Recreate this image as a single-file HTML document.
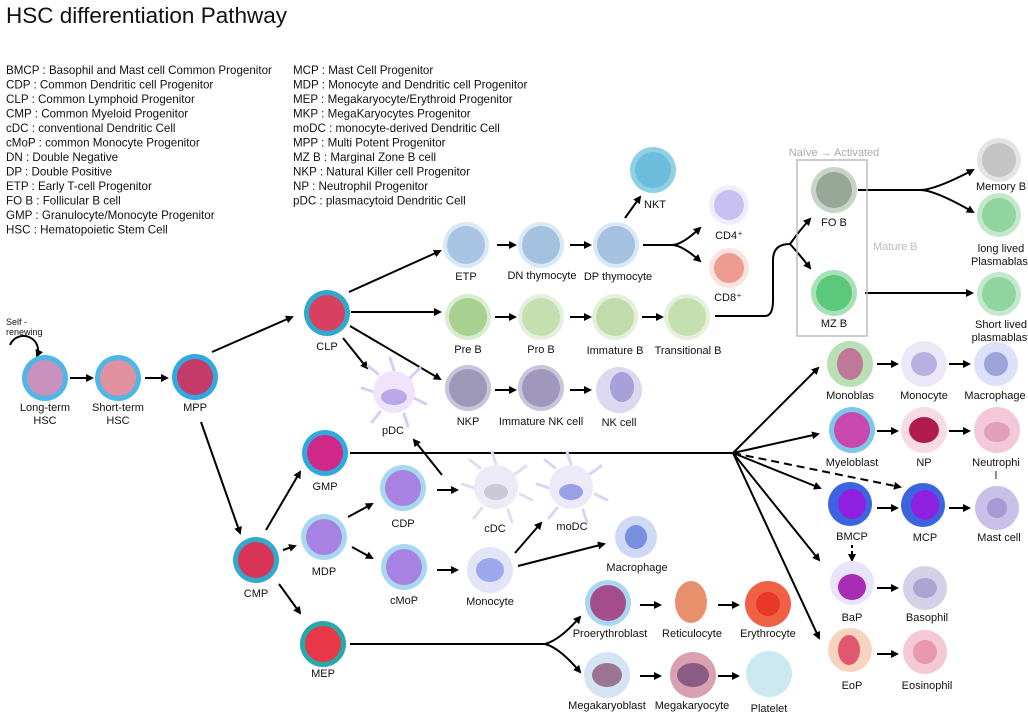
<!DOCTYPE html>
<html><head><meta charset="utf-8"><style>
html,body{margin:0;padding:0;background:#fff}
svg{display:block}
text{font-family:"Liberation Sans",sans-serif;font-size:11px;fill:#111}
.c text{text-anchor:middle}
.lg text{font-size:11.6px}
</style></head><body>
<svg width="1028" height="716" viewBox="0 0 1028 716" xmlns="http://www.w3.org/2000/svg">
<defs>
<marker id="a" markerWidth="8" markerHeight="8" refX="6" refY="4" orient="auto" markerUnits="userSpaceOnUse" viewBox="0 0 8 8"><path d="M0,0 L8,4 L0,8 Z" fill="#000"/></marker>
</defs>
<text x="6" y="23" style="font-size:22.5px">HSC differentiation Pathway</text>
<g class="lg">
<text x="6" y="74">BMCP : Basophil and Mast cell Common Progenitor</text>
<text x="6" y="88.5">CDP : Common Dendritic cell Progenitor</text>
<text x="6" y="103">CLP : Common Lymphoid Progenitor</text>
<text x="6" y="117.5">CMP : Common Myeloid Progenitor</text>
<text x="6" y="132">cDC : conventional Dendritic Cell</text>
<text x="6" y="146.5">cMoP : common Monocyte Progenitor</text>
<text x="6" y="161">DN : Double Negative</text>
<text x="6" y="175.5">DP : Double Positive</text>
<text x="6" y="190">ETP : Early T-cell Progenitor</text>
<text x="6" y="204.5">FO B : Follicular B cell</text>
<text x="6" y="219">GMP : Granulocyte/Monocyte Progenitor</text>
<text x="6" y="233.5">HSC : Hematopoietic Stem Cell</text>
<text x="293" y="74">MCP : Mast Cell Progenitor</text>
<text x="293" y="88.5">MDP : Monocyte and Dendritic cell Progenitor</text>
<text x="293" y="103">MEP : Megakaryocyte/Erythroid Progenitor</text>
<text x="293" y="117.5">MKP : MegaKaryocytes Progenitor</text>
<text x="293" y="132">moDC : monocyte-derived Dendritic Cell</text>
<text x="293" y="146.5">MPP : Multi Potent Progenitor</text>
<text x="293" y="161">MZ B : Marginal Zone B cell</text>
<text x="293" y="175.5">NKP : Natural Killer cell Progenitor</text>
<text x="293" y="190">NP : Neutrophil Progenitor</text>
<text x="293" y="204.5">pDC : plasmacytoid Dendritic Cell</text>
</g>

<g stroke="#000" stroke-width="2" fill="none" marker-end="url(#a)">
<path d="M10,345 A14,14 0 1 1 37,356"/>
<line x1="70" y1="378" x2="92" y2="378"/>
<line x1="145" y1="378" x2="167" y2="378"/>
<line x1="212" y1="352" x2="292" y2="317"/>
<line x1="201" y1="422" x2="240" y2="533"/>
<line x1="349" y1="292" x2="440" y2="251"/>
<line x1="351" y1="312" x2="440" y2="312"/>
<line x1="350" y1="326" x2="440" y2="379"/>
<line x1="343" y1="338" x2="367" y2="368"/>
<line x1="497" y1="245" x2="515" y2="245"/>
<line x1="570" y1="245" x2="590" y2="245"/>
<line x1="625" y1="218" x2="640" y2="197"/>
<path d="M643,245 L672,245 Q682,245 700,228"/>
<path d="M672,245 Q682,245 700,261"/>
<line x1="495" y1="317" x2="515" y2="317"/>
<line x1="570" y1="317" x2="590" y2="317"/>
<line x1="642" y1="317" x2="662" y2="317"/>
<path d="M715,316 L765,316 Q773,316 773,300 L773,260 Q773,244 790,244 Q800,230 810,219"/>
<path d="M790,244 Q800,255 810,268"/>
<path d="M858,190 L920,190 Q935,190 973,170"/>
<path d="M920,190 Q935,190 973,212"/>
<line x1="865" y1="293" x2="972" y2="293"/>
<line x1="495" y1="390" x2="515" y2="390"/>
<line x1="570" y1="390" x2="590" y2="390"/>
<line x1="266" y1="530" x2="300" y2="472"/>
<line x1="283" y1="550" x2="295" y2="546"/>
<line x1="279" y1="584" x2="300" y2="613"/>
<line x1="348" y1="517" x2="372" y2="504"/>
<line x1="352" y1="547" x2="372" y2="558"/>
<line x1="437" y1="490" x2="457" y2="490"/>
<line x1="442" y1="475" x2="414" y2="440"/>
<line x1="437" y1="570" x2="457" y2="570"/>
<line x1="515" y1="553" x2="541" y2="523"/>
<line x1="518" y1="566" x2="604" y2="544"/>
<path d="M350,453 L733,453 L818,368" />
<path d="M733,453 L818,434"/>
<path d="M733,453 L820,488"/>
<path d="M733,453 L819,560"/>
<path d="M733,453 L819,638"/>
<path d="M350,644 L545,644 Q560,640 580,617"/>
<path d="M545,644 Q560,648 580,672"/>
<line x1="640" y1="605" x2="660" y2="605"/>
<line x1="718" y1="605" x2="738" y2="605"/>
<line x1="640" y1="676" x2="660" y2="676"/>
<line x1="718" y1="676" x2="738" y2="676"/>
<line x1="877" y1="364" x2="897" y2="364"/>
<line x1="949" y1="364" x2="969" y2="364"/>
<line x1="877" y1="431" x2="897" y2="431"/>
<line x1="949" y1="431" x2="969" y2="431"/>
<line x1="877" y1="508" x2="897" y2="508"/>
<line x1="949" y1="508" x2="969" y2="508"/>
<line x1="877" y1="588" x2="897" y2="588"/>
<line x1="877" y1="654" x2="897" y2="654"/>
<path d="M733,453 L900,487" stroke-dasharray="8,5"/>
<path d="M852,545 L852,560" stroke-dasharray="3,3"/>
</g>

<rect x="797" y="160" width="70" height="176" fill="none" stroke="#bbb" stroke-width="1.5"/>
<text x="834" y="156" style="fill:#aaa;text-anchor:middle">Naïve → Activated</text>
<text x="873" y="250" style="fill:#bbb">Mature B</text>

<g stroke="#d8ccf4" stroke-width="3" stroke-linecap="round" fill="none">
<path d="M394,370 L390,358 M410,378 L420,368 M414,398 L426,404 M404,414 L408,426 M380,412 L372,422 M374,392 L362,388 M378,374 L368,366"/>
</g>
<g stroke="#e0def0" stroke-width="3" stroke-linecap="round" fill="none">
<path d="M496,464 L492,452 M515,474 L526,466 M520,494 L532,500 M508,510 L512,522 M482,508 L474,518 M474,488 L462,484 M480,468 L470,460"/>
<path d="M571,464 L567,452 M590,474 L601,466 M595,494 L607,500 M583,510 L587,522 M557,508 L549,518 M549,488 L537,484 M555,468 L545,460" stroke="#d8d6f4"/>
</g>

<g class="c">
<text x="6" y="325" style="font-size:9px;text-anchor:start">Self -</text>
<text x="6" y="335" style="font-size:9px;text-anchor:start">renewing</text>
<circle cx="45" cy="378" r="23" fill="#4db8e8"/><circle cx="45" cy="378" r="18" fill="#c890bc"/>
<text x="45" y="411">Long-term</text><text x="45" y="424">HSC</text>
<circle cx="118" cy="378" r="23" fill="#4db8e8"/><circle cx="118" cy="378" r="18" fill="#e0909e"/>
<text x="118" y="411">Short-term</text><text x="118" y="424">HSC</text>
<circle cx="195" cy="377" r="23" fill="#30a8e0"/><circle cx="195" cy="377" r="18" fill="#c43a68"/>
<text x="195" y="411">MPP</text>
<circle cx="327" cy="313" r="23" fill="#30a8d0"/><circle cx="327" cy="313" r="18" fill="#d84060"/>
<text x="327" y="350">CLP</text>
<circle cx="325" cy="453" r="23" fill="#30a8e0"/><circle cx="325" cy="453" r="18" fill="#d02888"/>
<text x="325" y="490">GMP</text>
<circle cx="324" cy="537" r="23" fill="#a8d8f0"/><circle cx="324" cy="537" r="18" fill="#a882e2"/>
<text x="324" y="575">MDP</text>
<circle cx="256" cy="560" r="23" fill="#30a8d0"/><circle cx="256" cy="560" r="18" fill="#d83458"/>
<text x="256" y="597">CMP</text>
<circle cx="323" cy="644" r="23" fill="#28a8a8"/><circle cx="323" cy="644" r="18" fill="#e83848"/>
<text x="323" y="677">MEP</text>

<circle cx="466" cy="245" r="23" fill="#d8e8f4"/><circle cx="466" cy="245" r="19" fill="#a8c4e2"/>
<text x="466" y="280">ETP</text>
<circle cx="541" cy="245" r="23" fill="#d8e8f4"/><circle cx="541" cy="245" r="19" fill="#a4c2e0"/>
<text x="542" y="279">DN thymocyte</text>
<circle cx="616" cy="245" r="23" fill="#d8e8f4"/><circle cx="616" cy="245" r="19" fill="#a4c2e0"/>
<text x="618" y="280">DP thymocyte</text>
<circle cx="653" cy="170" r="23" fill="#90d0e4"/><circle cx="653" cy="170" r="18" fill="#6cbcdc"/>
<text x="655" y="208">NKT</text>
<circle cx="729" cy="205" r="20" fill="#eeeeff"/><circle cx="729" cy="205" r="15" fill="#c8c0f0"/>
<text x="729" y="239">CD4⁺</text>
<circle cx="729" cy="268" r="20" fill="#f8e4e0"/><circle cx="729" cy="268" r="15" fill="#ec9c90"/>
<text x="728" y="301">CD8⁺</text>

<circle cx="468" cy="317" r="23" fill="#d8ecd0"/><circle cx="468" cy="317" r="19" fill="#a8d090"/>
<text x="468" y="353">Pre B</text>
<circle cx="541" cy="317" r="23" fill="#e4f0dc"/><circle cx="541" cy="317" r="19" fill="#c4e0b0"/>
<text x="541" y="353">Pro B</text>
<circle cx="615" cy="317" r="23" fill="#e4f0dc"/><circle cx="615" cy="317" r="19" fill="#c0dcac"/>
<text x="615" y="354">Immature B</text>
<circle cx="687" cy="317" r="23" fill="#e4f0dc"/><circle cx="687" cy="317" r="19" fill="#c4e0b0"/>
<text x="688" y="354">Transitional B</text>
<circle cx="834" cy="190" r="23" fill="#c8d4c8"/><circle cx="834" cy="190" r="18" fill="#98a898"/>
<text x="834" y="226">FO B</text>
<circle cx="834" cy="293" r="23" fill="#a8e0b8"/><circle cx="834" cy="293" r="18" fill="#5cc87c"/>
<text x="834" y="327">MZ B</text>
<circle cx="999" cy="160" r="22" fill="#e4e4e4"/><circle cx="999" cy="160" r="17" fill="#c4c4c4"/>
<text x="1001" y="190">Memory B</text>
<circle cx="999" cy="215" r="22" fill="#c4e8cc"/><circle cx="999" cy="215" r="17" fill="#90d4a0"/>
<text x="1001" y="252">long lived</text><text x="1001" y="265">Plasmablast</text>
<circle cx="999" cy="294" r="22" fill="#c4e8cc"/><circle cx="999" cy="294" r="17" fill="#90d4a0"/>
<text x="1001" y="328">Short lived</text><text x="1001" y="341">plasmablast</text>

<circle cx="468" cy="388" r="23" fill="#c8c4dc"/><circle cx="468" cy="388" r="19" fill="#9e98b8"/>
<text x="468" y="425">NKP</text>
<circle cx="541" cy="388" r="23" fill="#c8c4dc"/><circle cx="541" cy="388" r="19" fill="#a098bc"/>
<text x="541" y="425">Immature NK cell</text>
<circle cx="619" cy="390" r="23" fill="#dcd8f0"/><ellipse cx="622" cy="387" rx="12" ry="15" fill="#a8a0d8"/>
<text x="619" y="426">NK cell</text>

<circle cx="394" cy="392" r="21" fill="#efe4fc"/><ellipse cx="394" cy="397" rx="13" ry="8" fill="#b8a8e8"/>
<text x="393" y="434">pDC</text>
<circle cx="496" cy="487" r="22" fill="#eceaf6"/><ellipse cx="496" cy="492" rx="12" ry="8" fill="#c8c8d8"/>
<text x="495" y="532">cDC</text>
<circle cx="571" cy="487" r="22" fill="#eceaf8"/><ellipse cx="571" cy="492" rx="12" ry="8" fill="#9aa0e8"/>
<text x="572" y="530">moDC</text>
<circle cx="403" cy="488" r="23" fill="#a8d8f0"/><circle cx="403" cy="488" r="18" fill="#a882e2"/>
<text x="403" y="527">CDP</text>
<circle cx="404" cy="567" r="23" fill="#a8d8f0"/><circle cx="404" cy="567" r="18" fill="#a882e2"/>
<text x="404" y="604">cMoP</text>
<circle cx="490" cy="570" r="23" fill="#e2e4f8"/><ellipse cx="490" cy="570" rx="14" ry="12" fill="#9ca8ec"/>
<text x="490" y="605">Monocyte</text>
<circle cx="636" cy="537" r="21" fill="#d0d8f8"/><ellipse cx="636" cy="537" rx="11" ry="12" fill="#7890e0"/>
<text x="637" y="571">Macrophage</text>

<circle cx="608" cy="603" r="23" fill="#a8d8f0"/><circle cx="608" cy="603" r="18" fill="#a44c8c"/>
<text x="610" y="637">Proerythroblast</text>
<ellipse cx="691" cy="602" rx="16" ry="21" fill="#e8906c"/>
<text x="692" y="637">Reticulocyte</text>
<circle cx="768" cy="604" r="23" fill="#f06044"/><circle cx="768" cy="604" r="12" fill="#e83828"/>
<text x="768" y="637">Erythrocyte</text>
<circle cx="607" cy="675" r="23" fill="#d4e4f4"/><ellipse cx="607" cy="675" rx="15" ry="12" fill="#9c7494"/>
<text x="607" y="709">Megakaryoblast</text>
<circle cx="693" cy="675" r="23" fill="#d8a0b0"/><ellipse cx="693" cy="675" rx="16" ry="12" fill="#8a5c84"/>
<text x="692" y="709">Megakaryocyte</text>
<circle cx="769" cy="674" r="23" fill="#cce8f0"/>
<text x="769" y="712">Platelet</text>

<circle cx="850" cy="364" r="23" fill="#b8e0b4"/><ellipse cx="850" cy="364" rx="13" ry="16" fill="#c07898"/>
<text x="850" y="399">Monoblas</text>
<circle cx="924" cy="364" r="23" fill="#ece8f8"/><ellipse cx="924" cy="364" rx="13" ry="12" fill="#b8b0e0"/>
<text x="924" y="399">Monocyte</text>
<circle cx="996" cy="364" r="22" fill="#dce0f8"/><circle cx="996" cy="364" r="12" fill="#9ca4d8"/>
<text x="995" y="399">Macrophage</text>
<circle cx="852" cy="430" r="23" fill="#7cc8e8"/><circle cx="852" cy="430" r="18" fill="#c848b0"/>
<text x="852" y="466">Myeloblast</text>
<circle cx="924" cy="430" r="23" fill="#f8dce4"/><ellipse cx="924" cy="430" rx="15" ry="13" fill="#b01c50"/>
<text x="924" y="466">NP</text>
<circle cx="997" cy="430" r="23" fill="#f4c8d8"/><ellipse cx="997" cy="432" rx="13" ry="10" fill="#e0a0bc"/>
<text x="996" y="466">Neutrophi</text><text x="996" y="479">l</text>
<circle cx="850" cy="504" r="22" fill="#3c64e0"/><ellipse cx="852" cy="504" rx="14" ry="15" fill="#9020e0"/>
<text x="852" y="540">BMCP</text>
<circle cx="923" cy="505" r="22" fill="#3c64e0"/><ellipse cx="925" cy="505" rx="14" ry="15" fill="#9020e0"/>
<text x="925" y="541">MCP</text>
<circle cx="997" cy="508" r="22" fill="#c8c0e8"/><circle cx="997" cy="508" r="10" fill="#a898d4"/>
<text x="999" y="541">Mast cell</text>
<circle cx="852" cy="583" r="22" fill="#e8e4fc"/><ellipse cx="852" cy="587" rx="14" ry="13" fill="#a82cb4"/>
<text x="852" y="621">BaP</text>
<circle cx="925" cy="588" r="22" fill="#d4d0e8"/><ellipse cx="925" cy="588" rx="12" ry="10" fill="#aca4d0"/>
<text x="927" y="621">Basophil</text>
<circle cx="850" cy="650" r="22" fill="#f8d4c0"/><ellipse cx="849" cy="650" rx="11" ry="15" fill="#e05870"/>
<text x="852" y="689">EoP</text>
<circle cx="925" cy="652" r="22" fill="#f4c8d4"/><ellipse cx="925" cy="652" rx="12" ry="12" fill="#e898b0"/>
<text x="927" y="689">Eosinophil</text>
</g>
</svg>
</body></html>
